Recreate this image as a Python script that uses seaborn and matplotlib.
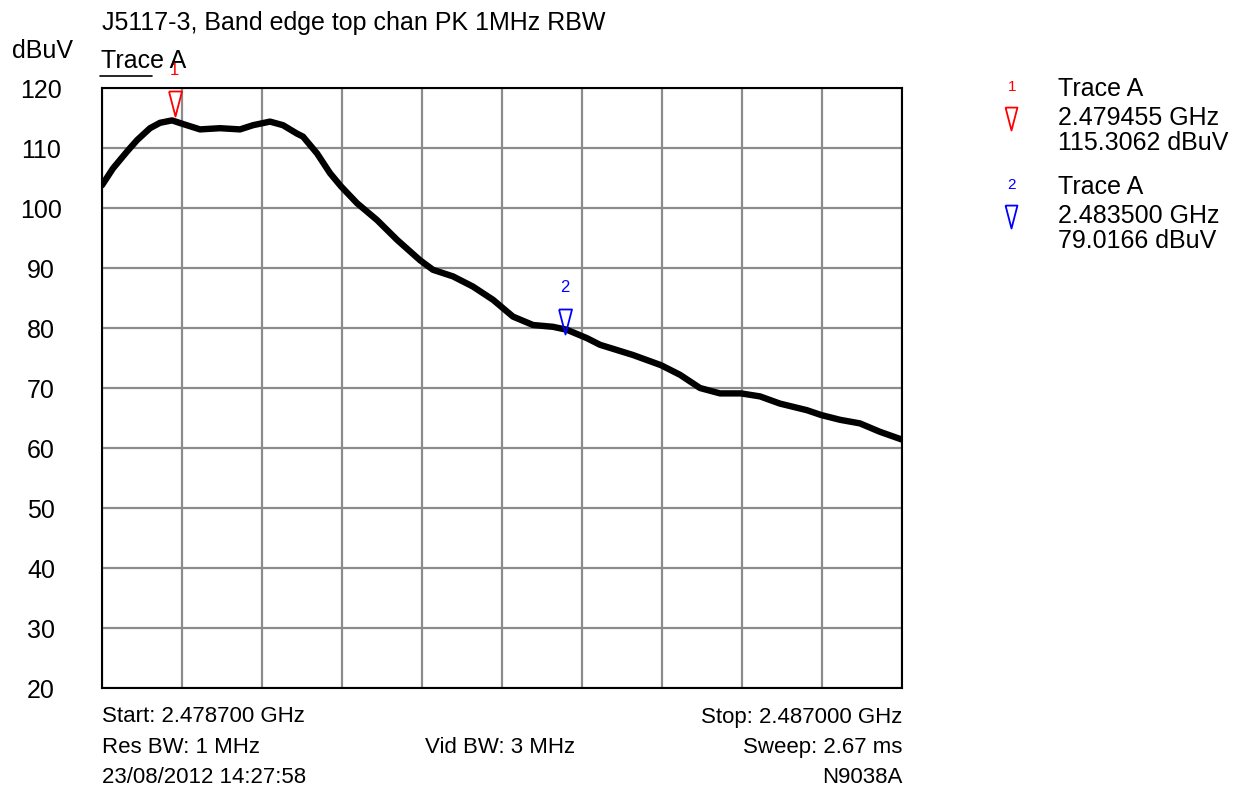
import numpy as np
import pandas as pd
import matplotlib
matplotlib.use("Agg")
import matplotlib.pyplot as plt
from matplotlib import font_manager
import seaborn as sns
from matplotlib.lines import Line2D

# trace values (GHz, dBuV)
freq_ghz = [2.478700, 2.478814, 2.478959, 2.479063, 2.479198, 2.479302, 2.479426,
            2.479540, 2.479717, 2.479924, 2.480132, 2.480267, 2.480443, 2.480578,
            2.480723, 2.480785, 2.480858, 2.480931, 2.481066, 2.481180, 2.481346,
            2.481553, 2.481761, 2.481999, 2.482134, 2.482342, 2.482549, 2.482757,
            2.482964, 2.483172, 2.483379, 2.483524, 2.483732, 2.483867, 2.484209,
            2.484500, 2.484697, 2.484904, 2.485112, 2.485330, 2.485527, 2.485734,
            2.486014, 2.486160, 2.486357, 2.486564, 2.486771, 2.487000]
level_dbuv = [103.8, 106.6, 109.4, 111.3, 113.3, 114.2, 114.6,
              114.0, 113.1, 113.3, 113.1, 113.8, 114.4, 113.8,
              112.4, 111.9, 110.5, 109.1, 105.8, 103.6, 100.8,
              98.0, 94.7, 91.3, 89.7, 88.6, 86.9, 84.7,
              81.9, 80.5, 80.2, 79.7, 78.3, 77.2, 75.5,
              73.8, 72.2, 70.0, 69.1, 69.1, 68.6, 67.4,
              66.3, 65.5, 64.7, 64.1, 62.7, 61.4]

marker_ids = ["1", "2"]
marker_freq = [2.479455, 2.483500]
marker_level = [115.3062, 79.0166]
marker_colors = ["red", "blue"]

f_start, f_stop = 2.478700, 2.487000
y_ticks = [20, 30, 40, 50, 60, 70, 80, 90, 100, 110, 120]

sns.set_style("white")
plt.rcParams['font.family'] = ['Liberation Sans', 'DejaVu Sans']
plt.rcParams['text.color'] = 'black'
plt.rcParams['ytick.color'] = 'black'

installed = {f.name for f in font_manager.fontManager.ttflist}
if "Liberation Sans Narrow" in installed:
    narrow = dict(family=["Liberation Sans Narrow", "DejaVu Sans"], fontsize=19)
else:
    narrow = dict(family=["Liberation Sans", "DejaVu Sans"], fontsize=16)

FS = 18
W, H = 1247, 805
fig = plt.figure(figsize=(W / 100, H / 100), dpi=100)
ax = fig.add_axes([102 / W, (H - 688) / H, 800 / W, 600 / H])

df = pd.DataFrame({"freq": freq_ghz, "level": level_dbuv})
sns.lineplot(data=df, x="freq", y="level", ax=ax, color="black", linewidth=4.6,
             solid_joinstyle="round", zorder=3)

ax.set_xlim(f_start, f_stop)
ax.set_ylim(20, 120)
ax.set_xticks(np.linspace(f_start, f_stop, 11))
ax.set_xticklabels([])
ax.set_yticks(y_ticks)
ax.set_yticklabels([str(v) for v in y_ticks], fontsize=FS, color="black")
for lab in ax.get_yticklabels():
    lab.set_horizontalalignment("center")
ax.tick_params(axis="y", length=0, pad=44)
ax.tick_params(axis="x", length=0)
ax.grid(True, color="#8c8c8c", linewidth=1.6)
ax.set_axisbelow(True)
for s in ax.spines.values():
    s.set_color("black")
    s.set_linewidth(1.5)
ax.set_xlabel("")
ax.set_ylabel("")

# marker triangles, tip at the measured point
tri = [(-0.26, 1.0), (0.26, 1.0), (0.0, 0.0), (-0.26, 1.0)]
for mid, mf, ml, mc in zip(marker_ids, marker_freq, marker_level, marker_colors):
    ax.plot([mf], [ml], marker=tri, markersize=36, markerfacecolor="none",
            markeredgecolor=mc, markeredgewidth=1.3, linestyle="none", zorder=5,
            clip_on=False)
    ax.annotate(mid, (mf, ml), xytext=(0, 46), textcoords="offset pixels",
                ha="center", va="center", color=mc, fontsize=12, zorder=5)

# header texts
fig.text(102 / W, 1 - 23 / H, "J5117-3, Band edge top chan PK 1MHz RBW", fontsize=FS,
         va="center", ha="left")
fig.text(12 / W, 1 - 51 / H, "dBuV", fontsize=FS, va="center", ha="left")
fig.text(101 / W, 1 - 61 / H, "Trace A", fontsize=FS, va="center", ha="left")
fig.add_artist(Line2D([100 / W, 152 / W], [1 - 76 / H, 1 - 76 / H], color="black",
                      linewidth=1.2, transform=fig.transFigure))

# footer texts
fig.text(102 / W, 1 - 717 / H, "Start: 2.478700 GHz", va="center", ha="left", **narrow)
fig.text(902 / W, 1 - 717 / H, "Stop: 2.487000 GHz", va="center", ha="right", **narrow)
fig.text(102 / W, 1 - 747 / H, "Res BW: 1 MHz", va="center", ha="left", **narrow)
fig.text(500 / W, 1 - 747 / H, "Vid BW: 3 MHz", va="center", ha="center", **narrow)
fig.text(902 / W, 1 - 747 / H, "Sweep: 2.67 ms", va="center", ha="right", **narrow)
fig.text(102 / W, 1 - 777 / H, "23/08/2012 14:27:58", va="center", ha="left", **narrow)
fig.text(902 / W, 1 - 777 / H, "N9038A", va="center", ha="right", **narrow)

# marker table on the right
rows_top = [89, 187]
for (mid, mf, ml, mc), top in zip(zip(marker_ids, marker_freq, marker_level, marker_colors), rows_top):
    fig.text(1012 / W, 1 - (top - 2) / H, mid, fontsize=11, color=mc,
             va="center", ha="center")
    fig.add_artist(Line2D([1011 / W], [1 - (top + 41) / H], marker=tri, markersize=33,
                          markerfacecolor="none", markeredgecolor=mc,
                          markeredgewidth=1.3, linestyle="none",
                          transform=fig.transFigure))
    fig.text(1058 / W, 1 - top / H, "Trace A", fontsize=FS, va="center", ha="left")
    fig.text(1058 / W, 1 - (top + 29) / H, f"{mf:.6f} GHz", fontsize=FS, va="center", ha="left")
    fig.text(1058 / W, 1 - (top + 54) / H, f"{ml:.4f} dBuV", fontsize=FS, va="center", ha="left")

fig.savefig("out.png", dpi=100)
